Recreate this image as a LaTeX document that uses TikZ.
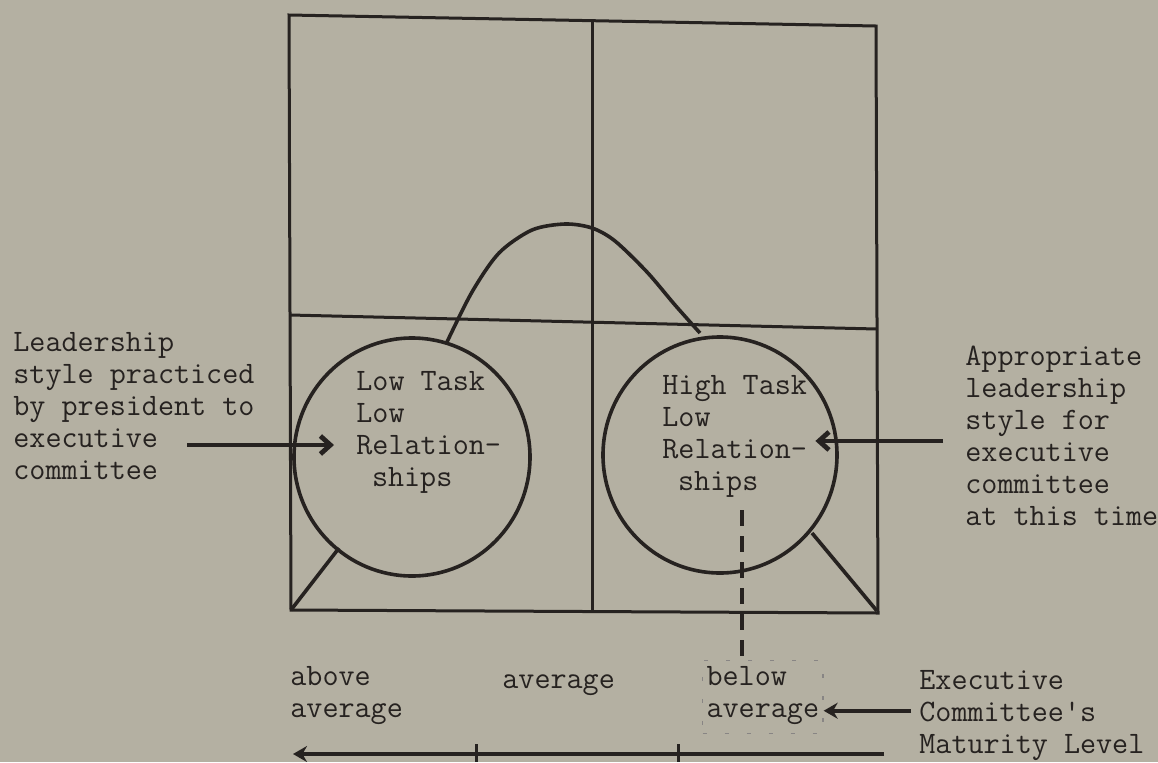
\documentclass[tikz,border=0pt]{standalone}
\usetikzlibrary{arrows.meta}
\definecolor{paper}{RGB}{180,176,162}
\definecolor{ink}{RGB}{38,34,32}

\begin{document}
\begin{tikzpicture}[
  x=0.5pt, y=-0.5pt,
  txt/.style={anchor=north west, inner sep=0pt, align=left, text=ink, font=\ttfamily\fontsize{15.6}{16}\selectfont, execute at begin node=\strut},
  ln/.style={draw=ink, line width=1.5pt},
  crv/.style={draw=ink, line width=1.8pt},
  fl/.style={-{Straight Barb[length=5pt, width=9pt]}, line width=2.4pt, draw=ink},
  fl2/.style={-{Stealth[length=7pt, width=8pt]}, line width=2.2pt, draw=ink},
  boxed/.style={draw=ink!55, line width=0.6pt, dash pattern=on 2pt off 9pt, inner xsep=2pt, inner ysep=3pt},
  dsh/.style={draw=ink, line width=2pt, dash pattern=on 8pt off 5pt}
]
\fill[paper] (0,0) rectangle (1158,762);
\useasboundingbox (0,0) rectangle (1158,762);

% grid
\draw[ln] (289,15) -- (876,26) -- (878,613) -- (291,610) -- cycle;
\draw[ln] (592,20) -- (592,612);
\draw[ln] (290,315) -- (877,329);

% curve and styles
\draw[crv] (291,610) -- (339,548);
\draw[crv] plot[smooth] coordinates {(447,342) (472,292) (499,253) (532,230) (565,224) (592,228) (615,241) (647,272) (675,305) (700,333)};
\draw[crv] (812,533) -- (877,611);
\draw[crv] (412,457) ellipse [x radius=118, y radius=119];
\draw[crv] (720,455) ellipse [x radius=117, y radius=118];

\node[txt] (lowtxt) at (356,371) {Low Task\\Low\\Relation-\\\hspace*{.5em}ships};
\node[txt] (hightxt) at (662,375) {High Task\\Low\\Relation-\\\hspace*{.5em}ships};

\node[txt] (lead) at (13,332) {Leadership\\style practiced\\by president to\\executive\\committee};
\node[txt] (appr) at (965,346) {Appropriate\\leadership\\style for\\executive\\committee\\at this time};

\coordinate (presfrom) at (187,445);
\draw[fl, shorten >=11pt] (presfrom) -- (presfrom -| lowtxt.west);
\draw[fl, shorten <=11pt, shorten >=4pt] (appr.west) -- (appr.west -| hightxt.east);

% maturity scale
\node[txt] (above) at (290,666) {above\\average};
\node[txt] (avg) at (502,666) {average};
\node[txt, boxed] (below) at (702,660) {below\\average};
\node[txt] (exec) at (919,670) {Executive\\Committee's\\Maturity Level};

\draw[dsh] (742,510) -- (742,658);
\draw[fl2, shorten <=4pt] ([yshift=3pt]exec.west) -- ([yshift=3pt]exec.west -| below.east);

\coordinate (axR) at (884,754);
\coordinate (axL) at (293,754);
\draw[fl2] (axR) -- (axL);
\draw[ln] (476,744) -- (476,762); \draw[ln] (678,744) -- (678,762);
\end{tikzpicture}
\end{document}
